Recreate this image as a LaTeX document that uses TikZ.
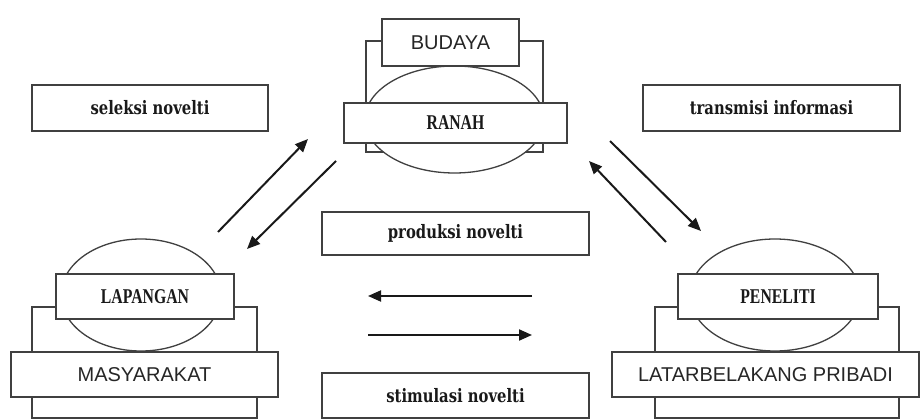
\documentclass[tikz,border=0pt]{standalone}
\usepackage{fontspec}
\usepackage{tikz}
\usetikzlibrary{positioning, shapes, arrows.meta, calc}
\newfontfamily\slabfont[FakeStretch=0.8]{DejaVu Serif}
\newfontfamily\capfont[FakeStretch=0.75]{Liberation Serif}
\newfontfamily\namefont{Liberation Sans}

\begin{document}
\begin{tikzpicture}[
    x=1pt, y=-1pt,
    frame/.style={rectangle, draw=black!75, line width=1.6pt, fill=white, inner sep=0pt},
    back/.style={frame, minimum height=111pt},
    oval/.style={ellipse, draw=black!75, line width=1.3pt, fill=white, inner sep=0pt, minimum height=110pt},
    tag/.style={frame, minimum width=267pt, minimum height=45pt, font=\slabfont\bfseries\fontsize{18.5}{22}\selectfont, text=black!90},
    head/.style={frame, minimum height=45pt, font=\capfont\bfseries\fontsize{21}{24}\selectfont, text=black!90},
    base/.style={frame, minimum height=45pt, font=\namefont\fontsize{20}{24}\selectfont, text=black!85},
    arrow/.style={-{Triangle[length=13pt, width=11pt]}, line width=2pt, black!90}
]
    \useasboundingbox (0,0) rectangle (920,419);

    % Ranah (top)
    \node[back, minimum width=177pt] (ranah-back) at (454.5,96.5) {};
    \node[oval, minimum width=179pt, minimum height=107pt] (ranah-oval) at (454.5,119.5) {};
    \node[base, minimum width=137pt, minimum height=47pt] (budaya) at (450.5,42.5) {BUDAYA};
    \node[head, minimum width=223pt, minimum height=40pt] (ranah) at (455.5,123) {RANAH};

    % Lapangan (bottom left)
    \node[back, minimum width=225pt] (lapangan-back) at (144.5,362.5) {};
    \node[oval, minimum width=160pt, minimum height=112pt] (lapangan-oval) at (141,295) {};
    \node[head, minimum width=178pt] (lapangan) at (145,296.5) {LAPANGAN};
    \node[base, minimum width=267pt] (masyarakat) at (144.5,374.5) {MASYARAKAT};

    % Peneliti (bottom right)
    \node[back, minimum width=244pt] (peneliti-back) at (777,362.5) {};
    \node[oval, minimum width=170pt, minimum height=112pt] (peneliti-oval) at (775,295) {};
    \node[head, minimum width=200pt] (peneliti) at (778,296.5) {PENELITI};
    \node[base, minimum width=307pt] (latar) at (765.5,374.5) {LATARBELAKANG PRIBADI};

    % Process labels
    \node[tag, minimum width=236pt, minimum height=46pt] (seleksi) at (150,108) {seleksi novelti};
    \node[tag, minimum width=257pt, minimum height=46pt] (transmisi) at (771.5,108) {transmisi informasi};
    \node[tag, minimum height=43pt] (produksi) at (455.5,233.5) {produksi novelti};
    \node[tag] (stimulasi) at (455.5,395.5) {stimulasi novelti};

    % Arrow ends
    \coordinate (sel-from) at (218,232);
    \coordinate (sel-to) at (308,139);
    \coordinate (sel-back-from) at (336,161);
    \coordinate (sel-back-to) at (247,249);
    \coordinate (tra-from) at (666,242);
    \coordinate (tra-to) at (589,161);
    \coordinate (tra-back-from) at (610,141);
    \coordinate (tra-back-to) at (701,231);
    \coordinate (pro-from) at (532,296);
    \coordinate (pro-to) at (368,296);
    \coordinate (sti-from) at (368,335);
    \coordinate (sti-to) at (532,335);

    % Arrows
    \draw[arrow] (sel-from) -- (sel-to);
    \draw[arrow] (sel-back-from) -- (sel-back-to);
    \draw[arrow] (tra-from) -- (tra-to);
    \draw[arrow] (tra-back-from) -- (tra-back-to);
    \draw[arrow] (pro-from) -- (pro-to);
    \draw[arrow] (sti-from) -- (sti-to);
\end{tikzpicture}
\end{document}
